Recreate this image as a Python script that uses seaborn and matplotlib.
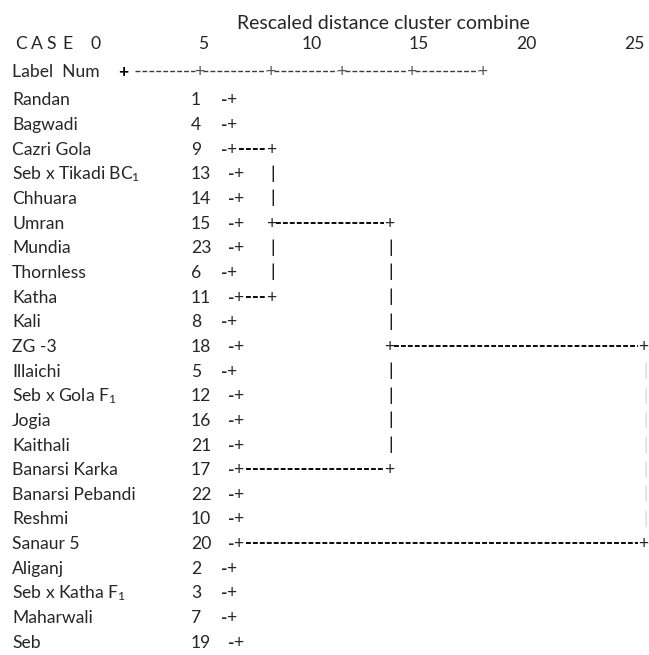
import matplotlib
matplotlib.use("Agg")
import matplotlib.pyplot as plt
import numpy as np
import pandas as pd
import seaborn as sns

# ---------------- data ----------------
labels = ["Randan", "Bagwadi", "Cazri Gola", "Seb x Tikadi BC$_1$", "Chhuara",
          "Umran", "Mundia", "Thornless", "Katha", "Kali", "ZG -3", "Illaichi",
          "Seb x Gola F$_1$", "Jogia", "Kaithali", "Banarsi Karka",
          "Banarsi Pebandi", "Reshmi", "Sanaur 5", "Aliganj",
          "Seb x Katha F$_1$", "Maharwali", "Seb"]
case_nums = [1, 4, 9, 13, 14, 15, 23, 6, 11, 8, 18, 5, 12, 16, 21, 17, 22, 10,
             20, 2, 3, 7, 19]
scale_labels = [0, 5, 10, 15, 20, 25]
header_ticks = [1.26, 4.79, 8.08, 11.38, 14.63, 17.92]
# dendrogram brackets (row indices) and rescaled join distance
bracket_top = [2, 5, 10]
bracket_mid = [5, 10, -1]
bracket_bottom = [8, 15, 18]
bracket_dist = [8.13, 13.6, 25.4]

# ---------------- style ----------------
sns.set_theme(style="white")
plt.rcParams["font.family"] = ["Lato", "DejaVu Sans"]
plt.rcParams["mathtext.fontset"] = "custom"
plt.rcParams["mathtext.rm"] = "Lato"
plt.rcParams["mathtext.it"] = "Lato:italic"
plt.rcParams["mathtext.bf"] = "Lato:bold"
plt.rcParams["lines.scale_dashes"] = False
FS = 12.6
FS_TITLE = 14.0
vert_colors = ["black", "black", "#d8d8d8"]

# pixel-layout helpers (layout only)
PX0, PXU = 95.8, 21.55
ROW0, ROWH = 99.5, 24.65
def xd(px):
    return (px - PX0) / PXU
def yr(py):
    return (py - ROW0) / ROWH
def dx(px):
    return px / PXU
BASE = 0.24  # baseline offset (rows) from row centre

fig = plt.figure(figsize=(6.49, 6.55), dpi=100)
ax = fig.add_axes([0, 0, 1, 1])

# ---- branch segments (horizontal dashed lines) ----
def stub_x(row):
    return xd(221 if case_nums[row] < 10 else 228)

segs = []
sid = 0
for k in range(len(bracket_dist)):
    for row in (bracket_top[k], bracket_bottom[k]):
        if row in bracket_mid:
            start = bracket_dist[bracket_mid.index(row)] + dx(5)
        else:
            start = stub_x(row) + dx(18)
        end = bracket_dist[k] - dx(5)
        segs.append(pd.DataFrame({"x": [start, end], "y": [row, row], "seg": sid}))
        sid += 1
seg_df = pd.concat(segs, ignore_index=True)
sns.lineplot(data=seg_df, x="x", y="y", units="seg", estimator=None,
             color="black", lw=1.35, linestyle=(0, (3.5, 1.5)), ax=ax,
             legend=False)

# ---- header axis line ----
hsegs = []
for j in range(len(header_ticks) - 1):
    s = header_ticks[j] + (dx(12) if j == 0 else dx(4))
    e = header_ticks[j + 1] - dx(4)
    hsegs.append(pd.DataFrame({"x": [s, e], "y": [yr(71), yr(71)], "seg": j}))
h_df = pd.concat(hsegs, ignore_index=True)
sns.lineplot(data=h_df, x="x", y="y", units="seg", estimator=None,
             color="#3a3a3a", lw=1.0, linestyle=(0, (3.5, 1.5)), ax=ax,
             legend=False)
for j, t in enumerate(header_ticks):
    ax.text(t, yr(71) + BASE, "+", ha="center", va="baseline", fontsize=FS,
            color="black" if j == 0 else "#555555",
            fontweight="bold" if j == 0 else "normal")

# ---- header texts ----
ax.text(xd(237), yr(23) + BASE, "Rescaled distance cluster combine",
        ha="left", va="baseline", fontsize=FS_TITLE)
for j, ch in enumerate("CASE"):
    ax.text(xd(15 + 15.7 * j), yr(43) + BASE, ch, ha="left", va="baseline",
            fontsize=FS)
for v in scale_labels:
    ax.text(v, yr(43) + BASE, str(v), ha="center", va="baseline", fontsize=FS)
ax.text(xd(12), yr(71) + BASE, "Label  Num", ha="left", va="baseline", fontsize=FS)

# ---- rows ----
for i, (lab, num) in enumerate(zip(labels, case_nums)):
    ax.text(xd(12), i + BASE, lab, ha="left", va="baseline", fontsize=FS)
    ax.text(xd(191), i + BASE, str(num), ha="left", va="baseline", fontsize=FS)
    sx = stub_x(i)
    ax.text(sx, i + BASE, "-", ha="left", va="baseline", fontsize=FS,
            fontweight="bold")
    ax.text(sx + dx(5), i + BASE, "+", ha="left", va="baseline", fontsize=FS)

# ---- bracket joins and verticals ----
for k in range(len(bracket_dist)):
    d = bracket_dist[k]
    for row in (bracket_top[k], bracket_mid[k], bracket_bottom[k]):
        if row >= 0:
            ax.text(d, row + BASE, "+", ha="center", va="baseline", fontsize=FS)
    for row in range(bracket_top[k] + 1, bracket_bottom[k]):
        if row != bracket_mid[k]:
            ax.text(d + dx(2), row, "|", ha="center", va="center",
                    fontsize=FS, color=vert_colors[k])

ax.set_xlim(xd(0), xd(649))
ax.set_ylim(yr(655), yr(0))
ax.axis("off")
fig.savefig("out.png", dpi=100, facecolor="white")
